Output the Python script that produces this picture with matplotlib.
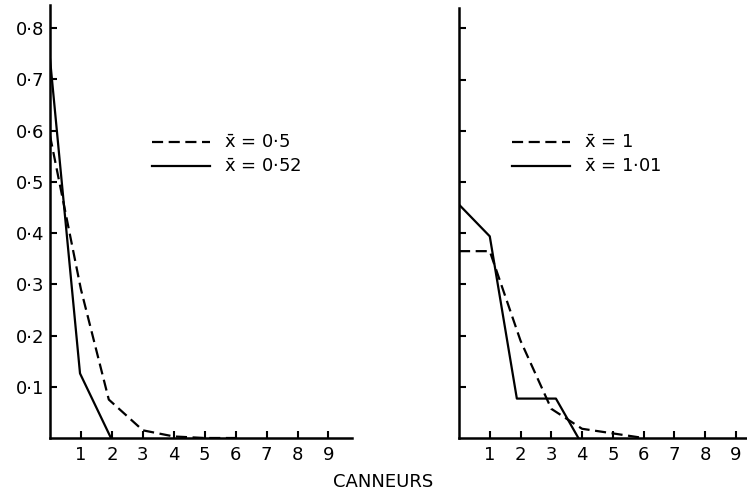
import matplotlib
matplotlib.use("Agg")
import matplotlib.pyplot as plt

# left panel: mean 0.5
left_dash_x = [0, 1, 1.9, 3, 4, 5, 6]
left_dash_y = [0.59, 0.29, 0.075, 0.015, 0.003, 0.0, 0.0]
left_solid_x = [0, 0.97, 1.97]
left_solid_y = [0.74, 0.126, 0.0]

# right panel: mean 1
right_dash_x = [0, 1, 2, 3, 4, 5, 6]
right_dash_y = [0.365, 0.365, 0.19, 0.057, 0.018, 0.009, 0.0]
right_solid_x = [0, 1, 1.88, 3.15, 3.88]
right_solid_y = [0.456, 0.394, 0.077, 0.077, 0.0]

y_ticks = [0.1, 0.2, 0.3, 0.4, 0.5, 0.6, 0.7, 0.8]
y_labels = ["0·1", "0·2", "0·3", "0·4", "0·5", "0·6", "0·7", "0·8"]
x_ticks = [1, 2, 3, 4, 5, 6, 7, 8, 9]

left_labels = [r"$\bar{\mathrm{x}}$ = 0·5", r"$\bar{\mathrm{x}}$ = 0·52"]
right_labels = [r"$\bar{\mathrm{x}}$ = 1", r"$\bar{\mathrm{x}}$ = 1·01"]

plt.rcParams['font.family'] = ['DejaVu Sans']
plt.rcParams['mathtext.fontset'] = 'dejavusans'
fs = 13

fig = plt.figure(figsize=(7.47, 4.97), dpi=100)
ax1 = fig.add_axes([50/747, 59/497, 302/747, 433/497])
ax2 = fig.add_axes([459/747, 59/497, 288/747, 430/497])

lw = 1.6
dash = (5, 2.5)


def style(ax, xmax, ymax, show_y):
    for s in ['top', 'right']:
        ax.spines[s].set_visible(False)
    for s in ['left', 'bottom']:
        ax.spines[s].set_linewidth(1.8)
    ax.set_xlim(0, xmax)
    ax.set_ylim(0, ymax)
    ax.set_xticks(x_ticks)
    ax.set_xticklabels([str(t) for t in x_ticks], fontsize=fs)
    ax.set_yticks(y_ticks)
    if show_y:
        ax.set_yticklabels(y_labels, fontsize=fs)
    else:
        ax.set_yticklabels([])
    ax.tick_params(axis='x', direction='in', length=5, width=1.5, pad=6)
    ax.tick_params(axis='y', direction='in', length=5, width=1.5, pad=4)


ax1.plot(left_dash_x, left_dash_y, color='black', lw=lw, dashes=dash, label=left_labels[0])
ax1.plot(left_solid_x, left_solid_y, color='black', lw=lw, label=left_labels[1])
style(ax1, 9.76, 0.845, True)

ax2.plot(right_dash_x, right_dash_y, color='black', lw=lw, dashes=dash, label=right_labels[0])
ax2.plot(right_solid_x, right_solid_y, color='black', lw=lw, label=right_labels[1])
style(ax2, 9.36, 0.84, False)

leg_kw = dict(frameon=False, fontsize=fs, handlelength=3.2, handletextpad=0.8,
              labelspacing=0.35, borderpad=0, borderaxespad=0, loc='upper left')
ax1.legend(bbox_to_anchor=(152/747, 1 - 134/497), bbox_transform=fig.transFigure, **leg_kw)
ax2.legend(bbox_to_anchor=(512/747, 1 - 134/497), bbox_transform=fig.transFigure, **leg_kw)

fig.text(383/747, 1 - 482/497, "CANNEURS", ha='center', va='center', fontsize=fs)

fig.savefig("out.png", dpi=100)
